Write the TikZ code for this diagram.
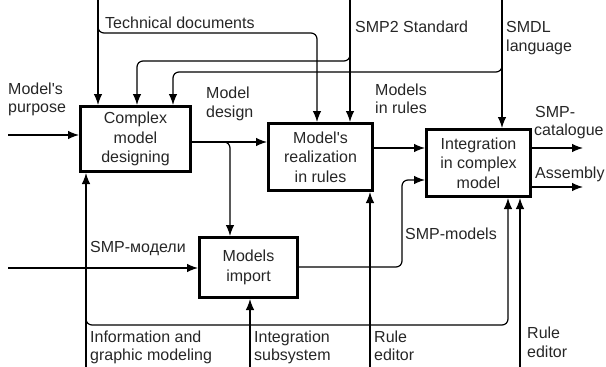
\documentclass[tikz,border=0pt]{standalone}
\usepackage{fontspec}
\setmainfont{Liberation Sans}
\usetikzlibrary{arrows.meta}
\newcommand\dgfont{\fontsize{16}{19.5}\selectfont}
\begin{document}
\begin{tikzpicture}[x=1pt,y=-1pt,
  box/.style={draw, line width=2.6pt, align=center, inner sep=0pt, font=\dgfont, text=black!85},
  arr/.style={line width=1.2pt, -{Latex[length=11pt,width=8.5pt]}},
  rc/.style={rounded corners=6pt},
  lbl/.style={anchor=base west, inner sep=0pt, font=\dgfont, text=black!85}]
\useasboundingbox (0,0) rectangle (606,367);

% boxes
\node[box, minimum width=110.4pt, minimum height=65.4pt] (b1) at (135.5,139) {Complex\\model\\designing};
\node[box, minimum width=104.4pt, minimum height=67.4pt] (b2) at (320.5,157) {Model\textquotesingle s\\realization\\in rules};
\node[box, minimum width=104.4pt, minimum height=67.4pt] (b3) at (478.5,163) {Integration\\in complex\\model};
\node[box, minimum width=98.4pt, minimum height=60.4pt] (b4) at (248.5,267.5) {Models\\import};

% Technical documents
\coordinate (td) at (98,0);
\coordinate (tdb) at (317,33);
\draw[arr] (td) -- (td |- b1.north);
\draw[arr,rc] (98,26) -- (98,33) -- (tdb) -- (tdb |- b2.north);

% SMP2 Standard
\coordinate (sm) at (350,0);
\coordinate (smb) at (137,61);
\draw[arr] (sm) -- (sm |- b2.north);
\draw[arr,rc] (350,54) -- (350,61) -- (smb) -- (smb |- b1.north);

% SMDL language
\coordinate (sd) at (502,0);
\coordinate (sdb) at (173,72);
\draw[arr] (sd) -- (sd |- b3.north);
\draw[arr,rc] (502,65) -- (502,72) -- (sdb) -- (sdb |- b1.north);

% Model's purpose
\coordinate (mp) at (8,135);
\draw[arr] (mp) -- (mp -| b1.west);

% b1 -> b2 and b1 -> b4
\draw[arr] (b1.east |- 0,142) -- (b2.west |- 0,142);
\coordinate (mdb) at (230,142);
\draw[arr,rc] (223,142) -- (mdb) -- (mdb |- b4.north);

% b2 -> b3
\draw[arr] (b2.east |- 0,148) -- (b3.west |- 0,148);

% outputs
\coordinate (cat) at (583,148);
\coordinate (asm) at (583,187);
\draw[arr] (cat -| b3.east) -- (cat);
\draw[arr] (asm -| b3.east) -- (asm);

% SMP-modeli input
\coordinate (smi) at (8,268);
\draw[arr] (smi) -- (smi -| b4.west);

% SMP-models
\draw[arr,rc] (b4.east |- 0,267) -- (402,267) -- (402,180) -- (b3.west |- 0,180);

% Information and graphic modeling
\coordinate (ig) at (86,367);
\coordinate (igb) at (508,325);
\draw[arr] (ig) -- (ig |- b1.south);
\draw[arr,rc] (86,318) -- (86,325) -- (igb) -- (igb |- b3.south);

% Integration subsystem
\coordinate (is) at (250,367);
\draw[arr] (is) -- (is |- b4.south);

% Rule editors
\coordinate (re1) at (370,367);
\draw[arr] (re1) -- (re1 |- b2.south);
\coordinate (re2) at (520,367);
\draw[arr] (re2) -- (re2 |- b3.south);

% labels
\node[lbl] (l1) at (105,28) {Technical documents};
\node[lbl] (l2) at (355,32) {SMP2 Standard};
\node[lbl] (l3a) at (506,32) {SMDL};
\node[lbl] (l3b) at (506,51) {language};
\node[lbl] (l4a) at (8,94) {Model\textquotesingle s};
\node[lbl] (l4b) at (8,112) {purpose};
\node[lbl] (l5a) at (206,98) {Model};
\node[lbl] (l5b) at (206,117) {design};
\node[lbl] (l6a) at (375,95) {Models};
\node[lbl] (l6b) at (375,113) {in rules};
\node[lbl] (l7a) at (535,117) {SMP-};
\node[lbl] (l7b) at (534,135) {catalogue};
\node[lbl] (l8) at (535,178) {Assembly};
\node[lbl] (l9) at (90,252) {SMP-модели};
\node[lbl] (l10) at (405,239) {SMP-models};
\node[lbl] (l11a) at (90,342) {Information and};
\node[lbl] (l11b) at (90,360) {graphic modeling};
\node[lbl] (l12a) at (254,342) {Integration};
\node[lbl] (l12b) at (254,360) {subsystem};
\node[lbl] (l13a) at (374,342) {Rule};
\node[lbl] (l13b) at (374,360) {editor};
\node[lbl] (l14a) at (527,338) {Rule};
\node[lbl] (l14b) at (527,357) {editor};
\end{tikzpicture}
\end{document}
